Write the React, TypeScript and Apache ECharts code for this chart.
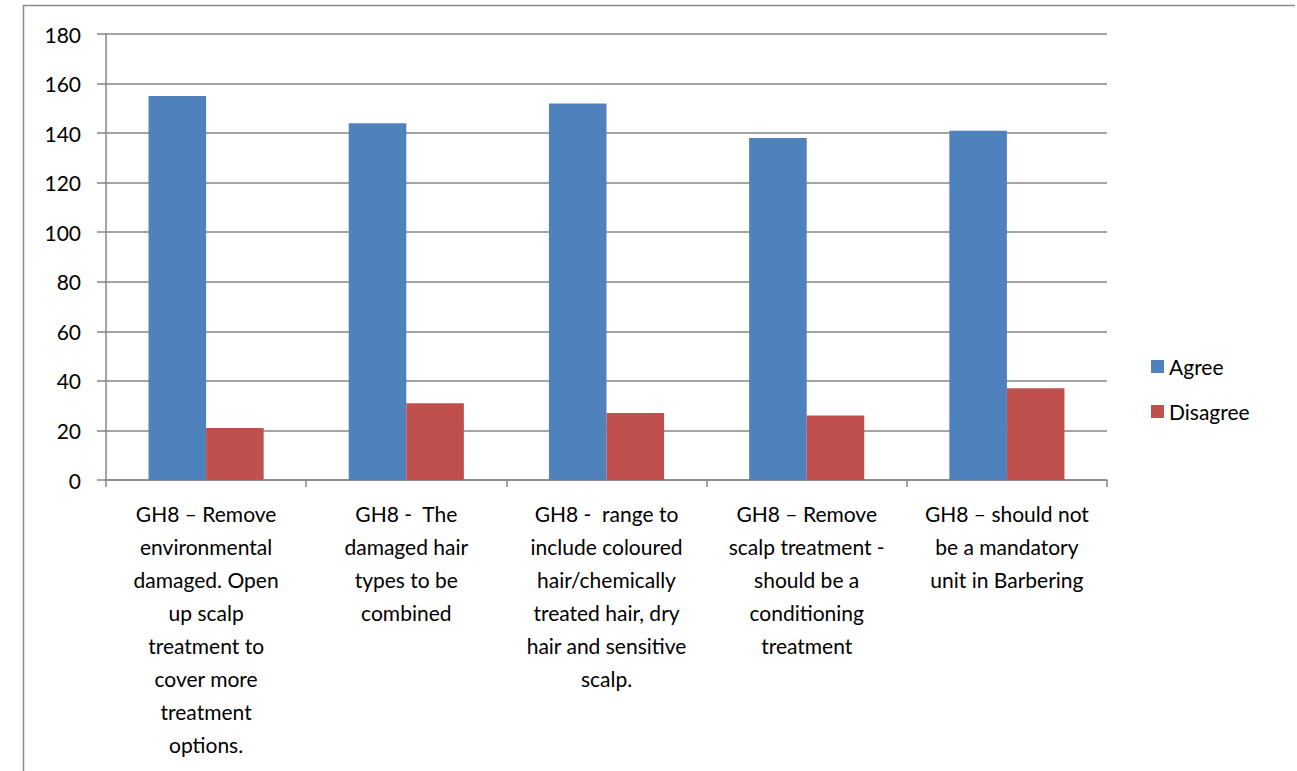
import React, { useEffect, useRef } from "react";
import * as echarts from "echarts";

const categories = [
  "GH8 – Remove\nenvironmental\ndamaged. Open\nup scalp\ntreatment to\ncover more\ntreatment\noptions.",
  "GH8 -  The\ndamaged hair\ntypes to be\ncombined",
  "GH8 -  range to\ninclude coloured\nhair/chemically\ntreated hair, dry\nhair and sensitive\nscalp.",
  "GH8 – Remove\nscalp treatment -\nshould be a\nconditioning\ntreatment",
  "GH8 – should not\nbe a mandatory\nunit in Barbering",
];
const agree = [155, 144, 152, 138, 141];
const disagree = [21, 31, 27, 26, 37];
const yTicks = { min: 0, max: 180, interval: 20 };

const FONT = "Lato, 'Open Sans', sans-serif";

export default function App() {
  const ref = useRef<HTMLDivElement>(null);
  useEffect(() => {
    if (!ref.current) return;
    const chart = echarts.init(ref.current, null, { renderer: "svg" });
    chart.setOption({
      animation: false,
      backgroundColor: "#ffffff",
      textStyle: { fontFamily: FONT },
      graphic: [
        {
          type: "polyline",
          shape: { points: [[23.5, 771], [23.5, 5.5], [1295, 5.5]] },
          style: { stroke: "#8c8c8c", lineWidth: 1.5, fill: "none" },
          silent: true,
        },
      ],
      grid: { left: 106, right: 190, top: 34, bottom: 291, containLabel: false },
      legend: {
        orient: "vertical",
        left: 1146,
        top: 351,
        itemWidth: 13,
        itemHeight: 13,
        itemGap: 24,
        icon: "rect",
        textStyle: { fontSize: 21, color: "#000", fontFamily: FONT },
        data: ["Agree", "Disagree"],
      },
      xAxis: {
        type: "category",
        data: categories,
        axisLine: { show: true, lineStyle: { color: "#868686", width: 1.5 } },
        axisTick: { show: true, length: 7, alignWithLabel: false, lineStyle: { color: "#868686", width: 1.5 } },
        axisLabel: {
          interval: 0,
          margin: 17,
          fontSize: 21,
          lineHeight: 33,
          color: "#000",
          fontFamily: FONT,
          align: "center",
        },
      },
      yAxis: {
        type: "value",
        min: yTicks.min,
        max: yTicks.max,
        interval: yTicks.interval,
        axisLine: { show: true, lineStyle: { color: "#868686", width: 1.5 } },
        axisTick: { show: true, length: 9, lineStyle: { color: "#868686", width: 1.5 } },
        axisLabel: { margin: 25, fontSize: 21, color: "#000", fontFamily: FONT },
        splitLine: { show: true, lineStyle: { color: "#868686", width: 1.5 } },
      },
      series: [
        {
          name: "Agree",
          type: "bar",
          data: agree,
          itemStyle: { color: "#4F81BD" },
          barGap: "0%",
          barCategoryGap: "42.5%",
        },
        {
          name: "Disagree",
          type: "bar",
          data: disagree,
          itemStyle: { color: "#C0504D" },
          barGap: "0%",
          barCategoryGap: "42.5%",
        },
      ],
    });
    return () => chart.dispose();
  }, []);
  return (
    <div
      ref={ref}
      style={{ position: "absolute", left: 0, top: 0, width: 1297, height: 771 }}
    />
  );
}
